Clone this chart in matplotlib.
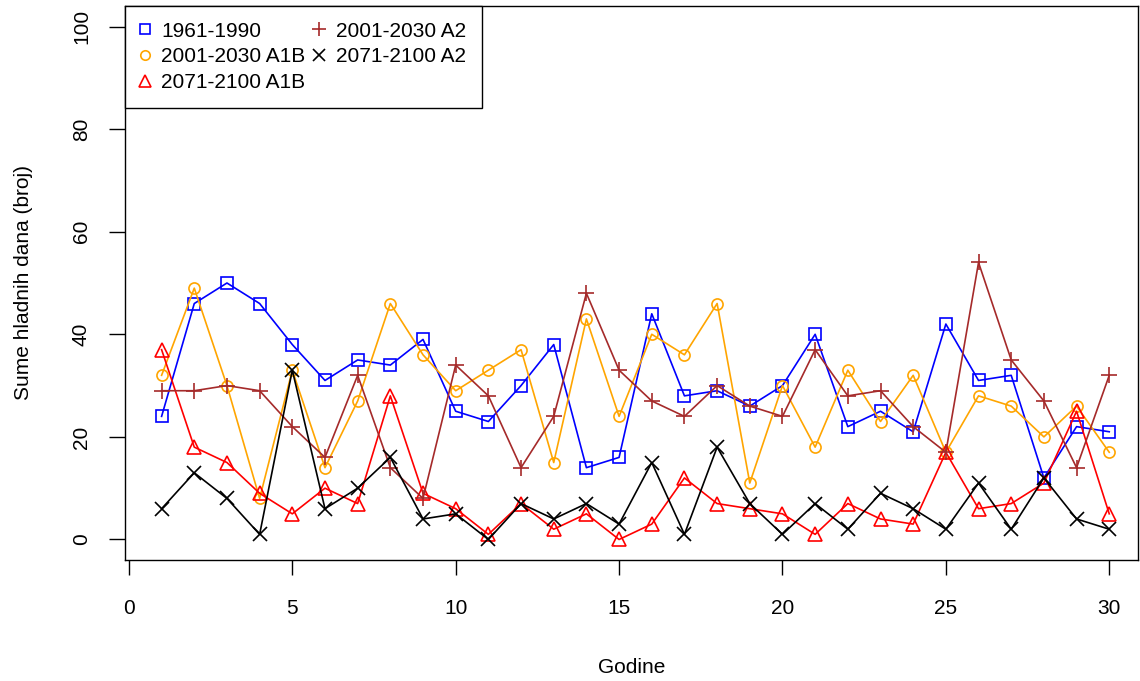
import matplotlib
matplotlib.use("Agg")
import matplotlib.pyplot as plt
from matplotlib.lines import Line2D

plt.rcParams['font.family'] = ['Liberation Sans', 'DejaVu Sans']

years = list(range(1, 31))
s_1961_1990 = [24, 46, 50, 46, 38, 31, 35, 34, 39, 25, 23, 30, 38, 14, 16, 44, 28, 29, 26, 30, 40, 22, 25, 21, 42, 31, 32, 12, 22, 21]
s_2001_2030_A1B = [32, 49, 30, 8, 33, 14, 27, 46, 36, 29, 33, 37, 15, 43, 24, 40, 36, 46, 11, 30, 18, 33, 23, 32, 17, 28, 26, 20, 26, 17]
s_2071_2100_A1B = [37, 18, 15, 9, 5, 10, 7, 28, 9, 6, 1, 7, 2, 5, 0, 3, 12, 7, 6, 5, 1, 7, 4, 3, 17, 6, 7, 11, 25, 5]
s_2001_2030_A2 = [29, 29, 30, 29, 22, 16, 32, 14, 8, 34, 28, 14, 24, 48, 33, 27, 24, 30, 26, 24, 37, 28, 29, 22, 17, 54, 35, 27, 14, 32]
s_2071_2100_A2 = [6, 13, 8, 1, 33, 6, 10, 16, 4, 5, 0, 7, 4, 7, 3, 15, 1, 18, 7, 1, 7, 2, 9, 6, 2, 11, 2, 12, 4, 2]

labels = ['1961-1990', '2001-2030 A1B', '2071-2100 A1B', '2001-2030 A2', '2071-2100 A2']
series = [s_1961_1990, s_2001_2030_A1B, s_2071_2100_A1B, s_2001_2030_A2, s_2071_2100_A2]
colors = ['#0000FF', '#FFA500', '#FF0000', '#A52A2A', '#000000']
markers = ['s', 'o', '^', '+', 'x']
msizes = [8.5, 8, 10, 12, 10]

x_ticks = [0, 5, 10, 15, 20, 25, 30]
y_ticks = [0, 20, 40, 60, 80, 100]

FS = 15

fig = plt.figure(figsize=(11.4, 6.81), dpi=100)
ax = fig.add_axes([125/1140, 1-560/681, (1138-125)/1140, 554/681])

for ys, c, m, ms in zip(series, colors, markers, msizes):
    ax.plot(years, ys, color=c, lw=1.2, marker=m, ms=ms, mfc='none', mec=c, mew=1.2)

ax.set_xlim(-0.12, 30.88)
ax.set_ylim(-4, 104)
ax.set_xticks(x_ticks)
ax.set_yticks(y_ticks)
ax.tick_params(axis='x', length=11, width=1, pad=17, labelsize=FS)
ax.tick_params(axis='y', length=11.5, width=1, pad=13, labelsize=FS)
for lab in ax.get_yticklabels():
    lab.set_rotation(90)
    lab.set_va('center')
for sp in ax.spines.values():
    sp.set_linewidth(1)

ax.set_xlabel('Godine', fontsize=FS, labelpad=29)
ax.set_ylabel('Sume hladnih dana (broj)', fontsize=FS, labelpad=28)

handles = [Line2D([], [], ls='none', marker=m, ms=ms * 0.85, mfc='none', mec=c, mew=1.2)
           for c, m, ms in zip(colors, markers, msizes)]
leg = ax.legend(handles, labels, loc='upper left', ncol=2, fontsize=FS,
                frameon=True, fancybox=False, borderaxespad=0, edgecolor='black',
                handlelength=0.4, handletextpad=0.6, columnspacing=0.45,
                labelspacing=0.32, borderpad=0.75)
leg.get_frame().set_linewidth(1)
leg.get_frame().set_alpha(1)

fig.savefig('out.png', dpi=100)
